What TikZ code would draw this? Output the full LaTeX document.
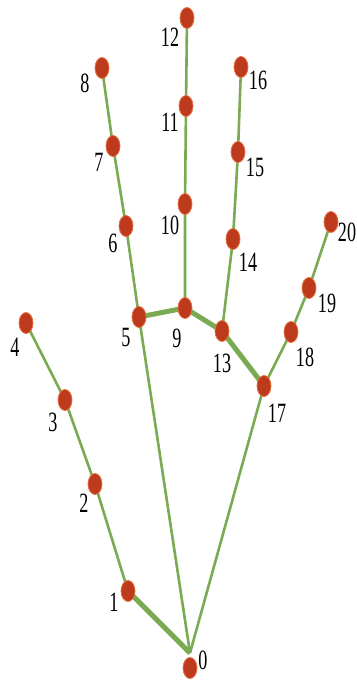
\documentclass[tikz,border=0pt]{standalone}
\usepackage{fontspec}
\setmainfont{Liberation Serif}
\usetikzlibrary{shapes.geometric}
\definecolor{dotred}{RGB}{190,58,28}
\definecolor{dotedge}{RGB}{226,112,64}
\definecolor{limb}{RGB}{122,170,82}
\newcommand\lbnum[1]{\scalebox{0.65}[1]{#1}}
\begin{document}
\begin{tikzpicture}[x=1bp,y=1bp,
  joint/.style={ellipse, fill=dotred, draw=dotedge, line width=0.8bp, minimum width=14bp, minimum height=21bp, inner sep=0pt},
  thin limb/.style={draw=limb, line width=2.6bp},
  thick limb/.style={draw=limb, line width=5bp},
  lbl/.style={inner sep=0pt, font=\fontsize{28}{28}\selectfont}]
\useasboundingbox (0,0) rectangle (356,-684);
% joint positions
\coordinate (hub) at (190,-653);
\coordinate (p0) at (190,-668);
\coordinate (p1) at (128,-591);
\coordinate (p2) at (95,-484);
\coordinate (p3) at (65,-400);
\coordinate (p4) at (26,-323);
\coordinate (p5) at (139,-317);
\coordinate (p6) at (126,-226);
\coordinate (p7) at (113,-146);
\coordinate (p8) at (102,-68);
\coordinate (p9) at (185,-308);
\coordinate (p10) at (185,-204);
\coordinate (p11) at (186,-106);
\coordinate (p12) at (187,-18);
\coordinate (p13) at (222,-331);
\coordinate (p14) at (233,-239);
\coordinate (p15) at (238,-152);
\coordinate (p16) at (241,-67);
\coordinate (p17) at (264,-386);
\coordinate (p18) at (291,-332);
\coordinate (p19) at (309,-288);
\coordinate (p20) at (331,-222);
% connectors
\draw[thick limb] (hub) -- (p1);
\draw[thin limb] (p1) -- (p2) -- (p3) -- (p4);
\draw[thin limb] (hub) -- (p5);
\draw[thin limb] (p5) -- (p6) -- (p7) -- (p8);
\draw[thick limb] (p5) -- (p9);
\draw[thin limb] (p9) -- (p10) -- (p11) -- (p12);
\draw[thick limb] (p9) -- (p13);
\draw[thin limb] (p13) -- (p14) -- (p15) -- (p16);
\draw[thick limb] (p13) -- (p17);
\draw[thin limb] (p17) -- (p18) -- (p19) -- (p20);
\draw[thin limb] (hub) -- (p17);
% joints
\foreach \i in {0,...,20} {\node[joint] (j\i) at (p\i) {};}
% labels
\node[lbl] (l0) at (203,-660) {\lbnum{0}};
\node[lbl] (l1) at (114,-602) {\lbnum{1}};
\node[lbl] (l2) at (84,-503) {\lbnum{2}};
\node[lbl] (l3) at (53,-422) {\lbnum{3}};
\node[lbl] (l4) at (15,-347) {\lbnum{4}};
\node[lbl] (l5) at (126,-337) {\lbnum{5}};
\node[lbl] (l6) at (113,-243) {\lbnum{6}};
\node[lbl] (l7) at (99,-162) {\lbnum{7}};
\node[lbl] (l8) at (85,-83) {\lbnum{8}};
\node[lbl] (l9) at (177,-338) {\lbnum{9}};
\node[lbl] (l10) at (170,-225) {\lbnum{10}};
\node[lbl] (l11) at (170,-122) {\lbnum{11}};
\node[lbl] (l12) at (170,-37) {\lbnum{12}};
\node[lbl] (l13) at (222,-363) {\lbnum{13}};
\node[lbl] (l14) at (248,-262) {\lbnum{14}};
\node[lbl] (l15) at (255,-167) {\lbnum{15}};
\node[lbl] (l16) at (258,-80) {\lbnum{16}};
\node[lbl] (l17) at (277,-413) {\lbnum{17}};
\node[lbl] (l18) at (305,-357) {\lbnum{18}};
\node[lbl] (l19) at (327,-303) {\lbnum{19}};
\node[lbl] (l20) at (347,-232) {\lbnum{20}};
\end{tikzpicture}
\end{document}
